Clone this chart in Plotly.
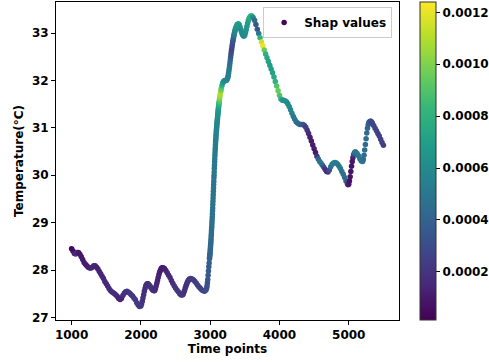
import plotly.graph_objects as go

# ---- data, in segments along the time axis ----
time_a = [1000, 1020, 1040, 1060, 1080, 1100, 1120, 1140, 1160, 1180, 1200, 1220, 1240, 1260, 1280,
          1300, 1320, 1340, 1360, 1380, 1400, 1420, 1440, 1460, 1480, 1500, 1520, 1540, 1560, 1580,
          1600, 1620, 1640, 1660, 1680, 1700, 1720, 1740, 1760, 1780, 1800, 1820, 1840, 1860, 1880,
          1900, 1920, 1940, 1960, 1980, 2000,
          2010, 2020, 2030, 2040, 2050, 2060, 2070, 2080, 2090, 2100, 2110, 2120, 2130, 2140, 2150,
          2160, 2170, 2180, 2190, 2200, 2210, 2220, 2230, 2240, 2250, 2260, 2270, 2280, 2290, 2300,
          2310, 2320,
          2340, 2360, 2380, 2400, 2420, 2440, 2460, 2480, 2500, 2520, 2540, 2560, 2580, 2600,
          2610, 2620, 2630, 2640, 2650, 2660, 2670, 2680, 2690, 2700,
          2720, 2740, 2760, 2780, 2800, 2820, 2840, 2860, 2880, 2900, 2920, 2940,
          2950, 2955, 2960, 2965, 2970, 2975, 2980, 2985]
temp_a = [28.45, 28.40, 28.35, 28.34, 28.37, 28.37, 28.33, 28.28, 28.22, 28.16, 28.12, 28.09, 28.06, 28.04, 28.04,
          28.06, 28.09, 28.09, 28.06, 28.02, 27.97, 27.92, 27.87, 27.82, 27.76, 27.71, 27.66, 27.61, 27.57, 27.54,
          27.52, 27.50, 27.47, 27.44, 27.40, 27.38, 27.40, 27.46, 27.51, 27.54, 27.55, 27.53, 27.51, 27.48, 27.45,
          27.41, 27.37, 27.31, 27.26, 27.23, 27.24,
          27.28, 27.34, 27.41, 27.48, 27.55, 27.61, 27.66, 27.69, 27.71, 27.71, 27.70, 27.68, 27.66, 27.64, 27.62,
          27.60, 27.58, 27.57, 27.56, 27.57, 27.61, 27.66, 27.72, 27.78, 27.84, 27.90, 27.95, 27.99, 28.02, 28.04,
          28.05, 28.05,
          28.03, 27.99, 27.94, 27.89, 27.84, 27.78, 27.72, 27.67, 27.62, 27.58, 27.54, 27.50, 27.47, 27.47,
          27.49, 27.53, 27.57, 27.62, 27.66, 27.70, 27.74, 27.77, 27.79, 27.81,
          27.82, 27.81, 27.79, 27.76, 27.72, 27.68, 27.64, 27.61, 27.58, 27.56, 27.55, 27.58,
          27.62, 27.67, 27.73, 27.80, 27.89, 27.98, 28.07, 28.15]
shap_a = [0.00003, 0.00005, 0.00012, 0.00018, 0.00015, 0.00010, 0.00009, 0.00009, 0.00010, 0.00010, 0.00011, 0.00011, 0.00012, 0.00012, 0.00013,
          0.00014, 0.00014, 0.00014, 0.00013, 0.00013, 0.00013, 0.00014, 0.00014, 0.00015, 0.00015, 0.00015, 0.00016, 0.00016, 0.00016, 0.00017,
          0.00017, 0.00017, 0.00016, 0.00015, 0.00014, 0.00012, 0.00014, 0.00017, 0.00019, 0.00020, 0.00020, 0.00020, 0.00021, 0.00021, 0.00022,
          0.00022, 0.00023, 0.00023, 0.00023, 0.00022, 0.00021,
          0.00021, 0.00020, 0.00019, 0.00018, 0.00018, 0.00018, 0.00018, 0.00018, 0.00018, 0.00018, 0.00018, 0.00018, 0.00019, 0.00019, 0.00020,
          0.00020, 0.00020, 0.00020, 0.00019, 0.00018, 0.00016, 0.00015, 0.00014, 0.00014, 0.00013, 0.00013, 0.00012, 0.00012, 0.00012, 0.00011,
          0.00011, 0.00011,
          0.00012, 0.00013, 0.00014, 0.00015, 0.00016, 0.00017, 0.00018, 0.00019, 0.00020, 0.00021, 0.00021, 0.00022, 0.00022, 0.00022,
          0.00021, 0.00020, 0.00019, 0.00018, 0.00018, 0.00018, 0.00019, 0.00020, 0.00021, 0.00022,
          0.00022, 0.00023, 0.00023, 0.00023, 0.00024, 0.00024, 0.00024, 0.00025, 0.00025, 0.00026, 0.00028, 0.00030,
          0.00031, 0.00032, 0.00033, 0.00034, 0.00035, 0.00036, 0.00037, 0.00038]

# steep rise, read finely
time_b = [2990, 2992, 2994, 2996, 2998, 3000, 3002, 3004, 3006, 3008, 3010, 3012, 3014, 3016, 3018,
          3020, 3022, 3024, 3026, 3028, 3030, 3032, 3034, 3036, 3038, 3040, 3042, 3044, 3046, 3048,
          3050, 3052, 3054, 3056, 3058, 3060, 3062, 3064, 3066, 3068, 3070, 3072, 3074, 3076, 3078,
          3080, 3082, 3084, 3086, 3088, 3090, 3092, 3094, 3096, 3098, 3100, 3102, 3104, 3106, 3108,
          3110, 3112, 3114, 3116, 3118, 3120, 3122, 3124, 3126, 3128, 3130]
temp_b = [28.24, 28.27, 28.30, 28.33, 28.36, 28.40, 28.44, 28.48, 28.52, 28.56, 28.60, 28.65, 28.70, 28.75, 28.80,
          28.85, 28.90, 28.95, 29.01, 29.06, 29.12, 29.18, 29.25, 29.31, 29.38, 29.45, 29.52, 29.59, 29.66, 29.73,
          29.80, 29.87, 29.94, 30.00, 30.07, 30.14, 30.21, 30.28, 30.34, 30.41, 30.47, 30.53, 30.58, 30.64, 30.69,
          30.74, 30.78, 30.83, 30.87, 30.91, 30.95, 30.98, 31.02, 31.05, 31.09, 31.12, 31.15, 31.18, 31.22, 31.25,
          31.28, 31.31, 31.34, 31.37, 31.40, 31.43, 31.46, 31.48, 31.51, 31.53, 31.56]
shap_b = [0.00039, 0.00039, 0.00040, 0.00040, 0.00041, 0.00041, 0.00042, 0.00042, 0.00043, 0.00043, 0.00044, 0.00044, 0.00045, 0.00045, 0.00045,
          0.00046, 0.00046, 0.00046, 0.00047, 0.00047, 0.00047, 0.00048, 0.00048, 0.00048, 0.00048, 0.00049, 0.00049, 0.00049, 0.00049, 0.00050,
          0.00050, 0.00050, 0.00050, 0.00050, 0.00051, 0.00051, 0.00051, 0.00051, 0.00052, 0.00052, 0.00052, 0.00052, 0.00053, 0.00053, 0.00053,
          0.00054, 0.00054, 0.00055, 0.00055, 0.00056, 0.00056, 0.00057, 0.00057, 0.00058, 0.00058, 0.00059, 0.00059, 0.00060, 0.00060, 0.00061,
          0.00062, 0.00063, 0.00064, 0.00066, 0.00068, 0.00070, 0.00073, 0.00076, 0.00080, 0.00085, 0.00090]

time_c = [3135, 3140, 3145, 3150, 3155, 3160, 3170, 3180, 3190, 3200, 3210, 3220, 3230, 3240, 3250,
          3255, 3260, 3265, 3270, 3275, 3280, 3285, 3290, 3295, 3300, 3305, 3310, 3315, 3320, 3325,
          3330, 3335, 3340, 3345, 3350, 3355, 3360, 3365, 3370, 3380, 3390, 3400, 3410, 3420, 3430,
          3440, 3450, 3460, 3470, 3480, 3490, 3500, 3510, 3520, 3530, 3540, 3550, 3560, 3570, 3580,
          3590, 3600]
temp_c = [31.61, 31.66, 31.71, 31.75, 31.79, 31.83, 31.89, 31.94, 31.97, 31.99, 32.00, 32.00, 32.00, 32.01, 32.04,
          32.07, 32.10, 32.15, 32.20, 32.25, 32.31, 32.37, 32.43, 32.49, 32.55, 32.61, 32.66, 32.71, 32.76, 32.81,
          32.85, 32.89, 32.93, 32.97, 33.00, 33.03, 33.06, 33.09, 33.11, 33.15, 33.18, 33.19, 33.19, 33.17, 33.13,
          33.08, 33.03, 32.99, 32.96, 32.94, 32.94, 32.96, 33.01, 33.07, 33.14, 33.20, 33.26, 33.30, 33.33, 33.35,
          33.36, 33.36]
shap_c = [0.00098, 0.00105, 0.00108, 0.00108, 0.00100, 0.00092, 0.00080, 0.00070, 0.00065, 0.00062, 0.00060, 0.00060, 0.00060, 0.00058, 0.00056,
          0.00055, 0.00054, 0.00053, 0.00052, 0.00051, 0.00050, 0.00046, 0.00042, 0.00037, 0.00032, 0.00030, 0.00028, 0.00028, 0.00030, 0.00032,
          0.00035, 0.00040, 0.00045, 0.00050, 0.00055, 0.00058, 0.00060, 0.00062, 0.00063, 0.00065, 0.00068, 0.00070, 0.00070, 0.00068, 0.00065,
          0.00063, 0.00060, 0.00060, 0.00060, 0.00060, 0.00060, 0.00060, 0.00062, 0.00064, 0.00066, 0.00068, 0.00070, 0.00073, 0.00076, 0.00078,
          0.00078, 0.00075]

time_d = [3620, 3640, 3660, 3680, 3700, 3720, 3740, 3760, 3780, 3800, 3820, 3840, 3860, 3880, 3900,
          3920, 3940, 3960, 3980, 4000, 4020, 4040, 4060, 4080, 4100, 4120, 4140, 4160, 4180, 4200,
          4220, 4240, 4260, 4280, 4300, 4320, 4340, 4360, 4380, 4400, 4420, 4440, 4460, 4480, 4500,
          4520, 4540, 4560, 4580, 4600, 4620, 4640, 4660, 4680, 4700, 4720, 4740, 4760, 4780, 4800,
          4820, 4840, 4860, 4880, 4900, 4920, 4940, 4960, 4980,
          4990, 5000, 5010, 5020, 5030, 5040, 5050, 5060, 5070, 5080, 5090, 5100,
          5120, 5140, 5160, 5180, 5200,
          5210, 5220, 5230, 5240, 5250, 5260, 5270, 5280, 5290, 5300, 5310, 5320, 5330,
          5340, 5360, 5380, 5400, 5420, 5440, 5460, 5480, 5500]
temp_d = [33.33, 33.27, 33.18, 33.08, 32.99, 32.90, 32.81, 32.73, 32.64, 32.56, 32.48, 32.40, 32.32, 32.24, 32.16,
          32.07, 31.98, 31.88, 31.78, 31.69, 31.61, 31.58, 31.58, 31.57, 31.55, 31.51, 31.45, 31.38, 31.31, 31.24,
          31.18, 31.13, 31.10, 31.08, 31.07, 31.07, 31.07, 31.05, 31.01, 30.95, 30.88, 30.80, 30.72, 30.64, 30.56,
          30.48, 30.40, 30.34, 30.29, 30.25, 30.21, 30.17, 30.12, 30.08, 30.07, 30.11, 30.18, 30.23, 30.26, 30.27,
          30.26, 30.23, 30.19, 30.14, 30.08, 30.02, 29.95, 29.88, 29.82,
          29.80, 29.81, 29.88, 29.97, 30.08, 30.19, 30.29, 30.37, 30.43, 30.47, 30.49, 30.49,
          30.46, 30.41, 30.35, 30.30, 30.29,
          30.33, 30.42, 30.53, 30.65, 30.77, 30.89, 30.99, 31.06, 31.11, 31.13, 31.14, 31.14, 31.12,
          31.10, 31.05, 30.99, 30.94, 30.88, 30.83, 30.76, 30.69, 30.63]
shap_d = [0.00060, 0.00045, 0.00035, 0.00035, 0.00050, 0.00080, 0.00115, 0.00120, 0.00095, 0.00080, 0.00075, 0.00072, 0.00070, 0.00070, 0.00072,
          0.00075, 0.00080, 0.00090, 0.00095, 0.00090, 0.00080, 0.00068, 0.00065, 0.00063, 0.00062, 0.00060, 0.00060, 0.00058, 0.00056, 0.00053,
          0.00050, 0.00048, 0.00045, 0.00043, 0.00042, 0.00040, 0.00035, 0.00030, 0.00025, 0.00020, 0.00015, 0.00012, 0.00010, 0.00010, 0.00010,
          0.00010, 0.00020, 0.00040, 0.00048, 0.00050, 0.00045, 0.00030, 0.00020, 0.00018, 0.00020, 0.00030, 0.00045, 0.00050, 0.00052, 0.00052,
          0.00052, 0.00052, 0.00050, 0.00050, 0.00048, 0.00046, 0.00044, 0.00040, 0.00030,
          0.00015, 0.00010, 0.00008, 0.00008, 0.00008, 0.00008, 0.00009, 0.00012, 0.00025, 0.00040, 0.00048, 0.00050,
          0.00050, 0.00050, 0.00050, 0.00050, 0.00048,
          0.00046, 0.00046, 0.00046, 0.00045, 0.00045, 0.00044, 0.00042, 0.00040, 0.00038, 0.00035, 0.00032, 0.00030, 0.00029,
          0.00028, 0.00027, 0.00026, 0.00026, 0.00025, 0.00025, 0.00025, 0.00025, 0.00025]

time_points = time_a + time_b + time_c + time_d
temperature = temp_a + temp_b + temp_c + temp_d
shap_values = shap_a + shap_b + shap_c + shap_d

assert len(time_points) == len(temperature) == len(shap_values), (
    len(time_points), len(temperature), len(shap_values))

x_ticks = [1000, 2000, 3000, 4000, 5000]
y_ticks = [27, 28, 29, 30, 31, 32, 33]
cbar_ticks = [0.0002, 0.0004, 0.0006, 0.0008, 0.0010, 0.0012]
cbar_labels = ["0.0002", "0.0004", "0.0006", "0.0008", "0.0010", "0.0012"]

FONT = dict(family="DejaVu Sans", size=12, color="black", weight="bold")

fig = go.Figure()
fig.add_trace(go.Scatter(
    x=time_points, y=temperature, mode="markers", name="Shap values",
    marker=dict(
        color=shap_values, colorscale="Viridis", cmin=0.000014, cmax=0.00124,
        size=5.5, line=dict(width=0),
        colorbar=dict(
            x=1.0612, xanchor="left", xpad=0, ypad=0,
            y=0.5, yanchor="middle", len=1, lenmode="fraction",
            thickness=16, outlinewidth=1, outlinecolor="#333",
            ticks="outside", ticklen=4, tickwidth=1, tickcolor="black",
            tickvals=cbar_ticks, ticktext=cbar_labels, tickfont=FONT,
        ),
    ),
    showlegend=True,
))

axis_common = dict(
    showline=True, mirror=True, linecolor="black", linewidth=1,
    ticks="outside", ticklen=4, tickwidth=1, tickcolor="black",
    showgrid=False, zeroline=False, tickfont=FONT, automargin=False,
)

fig.update_layout(
    width=489, height=362,
    margin=dict(l=56, r=90, t=2, b=42, autoexpand=False),
    paper_bgcolor="white", plot_bgcolor="white",
    font=FONT,
    xaxis=dict(range=[775, 5725], tickvals=x_ticks,
               title=dict(text="Time points", font=FONT, standoff=3), **axis_common),
    yaxis=dict(range=[26.945, 33.655], tickvals=y_ticks,
               title=dict(text="Temperature(°C)", font=FONT, standoff=5), **axis_common),
    legend=dict(x=0.98, y=0.984, xanchor="right", yanchor="top",
                bgcolor="white", bordercolor="#cccccc", borderwidth=1,
                font=FONT),
)

fig.write_html("out.html")
